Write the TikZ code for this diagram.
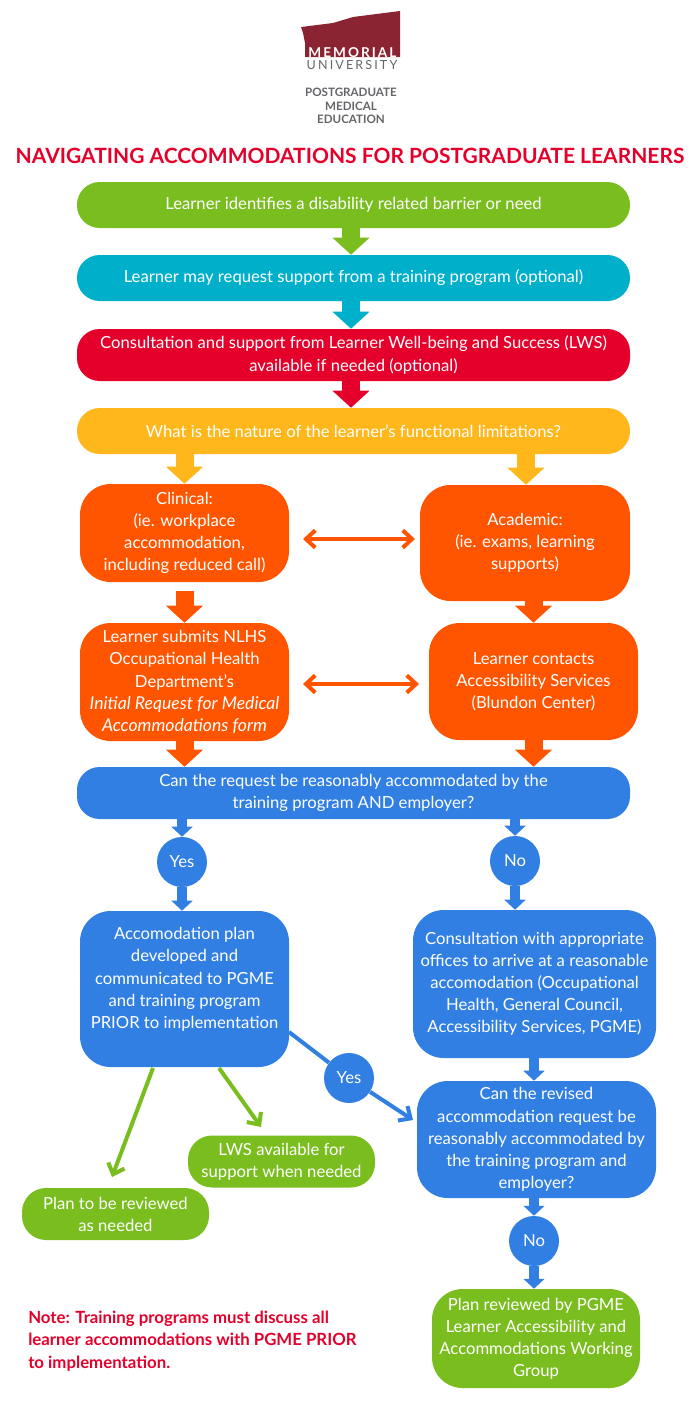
\documentclass[tikz,border=0pt]{standalone}
\usepackage{fontspec}
\setmainfont{Lato}
\newfontfamily\memfont[LetterSpace=15]{Lato}
\newfontfamily\unifont[LetterSpace=17]{Lato}
\usetikzlibrary{arrows.meta}
\definecolor{cGreen}{HTML}{7ABD1F}
\definecolor{cTeal}{HTML}{00B0CA}
\definecolor{cRed}{HTML}{E4002B}
\definecolor{cYellow}{HTML}{FFB71B}
\definecolor{cOrange}{HTML}{FF5500}
\definecolor{cBlue}{HTML}{317FE3}
\definecolor{cLogo}{HTML}{8A2432}
\definecolor{cGrey}{HTML}{646569}
\def\u{0.75pt}
\tikzset{
  x=0.75pt,y=-0.75pt,
  body/.style={text=white,align=center,inner sep=0pt,font=\fontsize{12.5}{16.6}\selectfont},
  bar/.style={body,rounded corners=17pt},
  bigbox/.style={body,rounded corners=23pt},
  pill/.style={body,rounded corners=18pt},
  dot/.style={body,circle,minimum size=50*\u},
  blockbig/.style={line width=13.5pt,-{Triangle[width=27pt,length=12.75pt]}},
  blocksmall/.style={line width=8pt,-{Triangle[width=15.5pt,length=7.5pt]}},
  thin arrow/.style={line width=3pt,{Straight Barb[length=7pt,width=13pt,line width=3pt]}-{Straight Barb[length=7pt,width=13pt,line width=3pt]}},
  diag/.style={line width=3pt,-{Straight Barb[length=7pt,width=13pt,line width=3pt]}},
}
\begin{document}
\begin{tikzpicture}
\useasboundingbox (0,0) rectangle (700,1411);
% logo
\fill[cLogo] (301,27) -- (333,23) -- (353,17) -- (400,11) -- (400,57) -- (305,57) -- (305,43) -- (303,33) -- cycle;
\node[text=white,inner sep=0pt,font={\memfont\bfseries\fontsize{10.2}{12}\selectfont}] (mem) at (352.5,52.5) {MEMORIAL};
\node[text=cGrey,inner sep=0pt,font={\unifont\fontsize{9.4}{12}\selectfont}] (uni) at (352,65.5) {UNIVERSITY};
\node[text=cGrey,inner sep=0pt,align=center,font={\bfseries\fontsize{8.7}{10.1}\selectfont}] (pgme) at (351,106) {POSTGRADUATE\\MEDICAL\\EDUCATION};
% title
\node[text=cRed,inner sep=0pt,font={\bfseries\fontsize{15.75}{18}\selectfont}] (title) at (350,156) {NAVIGATING ACCOMMODATIONS FOR POSTGRADUATE LEARNERS};
% nodes
\node[bar,fill=cGreen,minimum width=553*\u,minimum height=46*\u] (n1) at (353.5,205) {Learner identifies a disability related barrier or need};
\node[bar,fill=cTeal,minimum width=553*\u,minimum height=46*\u] (n2) at (353.5,278) {Learner may request support from a training program (optional)};
\node[bar,fill=cRed,minimum width=553*\u,minimum height=52*\u] (n3) at (353.5,355) {Consultation and support from Learner Well-being and Success (LWS)\\available if needed (optional)};
\node[bar,fill=cYellow,minimum width=553*\u,minimum height=46*\u] (n4) at (353.5,431) {What is the nature of the learner's functional limitations?};
\node[bigbox,fill=cOrange,minimum width=209*\u,minimum height=98*\u] (clin) at (184.5,533) {Clinical:\\(ie. workplace\\accommodation,\\including reduced call)};
\node[bigbox,fill=cOrange,minimum width=210*\u,minimum height=116*\u] (acad) at (525,543) {Academic:\\(ie. exams, learning\\supports)};
\node[bigbox,fill=cOrange,minimum width=209*\u,minimum height=118*\u] (subm) at (184.5,682) {Learner submits NLHS\\Occupational Health\\Department's\\{\fontsize{13.2}{16.6}\selectfont\itshape Initial Request for Medical}\\{\fontsize{13.2}{16.6}\selectfont\itshape Accommodations form}};
\node[bigbox,fill=cOrange,minimum width=209*\u,minimum height=117*\u] (cont) at (533.5,681.5) {Learner contacts\\Accessibility Services\\(Blundon Center)};
\node[bar,fill=cBlue,minimum width=553*\u,minimum height=52*\u] (q1) at (353.5,793) {Can the request be reasonably accommodated by the\\training program AND employer?};
\node[dot,fill=cBlue] (yes1) at (182,862) {Yes};
\node[dot,fill=cBlue] (no1) at (515,861) {No};
\node[bigbox,fill=cBlue,minimum width=209*\u,minimum height=156*\u] (plan) at (184.5,989) {Accomodation plan\\developed and\\communicated to PGME\\and training program\\PRIOR to implementation\\\mbox{}};
\node[bigbox,fill=cBlue,minimum width=243*\u,minimum height=148*\u] (cons) at (534.5,984) {Consultation with appropriate\\offices to arrive at a reasonable\\accomodation (Occupational\\Health, General Council,\\Accessibility Services, PGME)};
\node[bigbox,fill=cBlue,minimum width=239*\u,minimum height=117*\u] (rev) at (536.5,1139.5) {Can the revised\\accommodation request be\\reasonably accommodated by\\the training program and\\employer?};
\node[dot,fill=cBlue] (no2) at (534,1241) {No};
\node[dot,fill=cBlue] (yes2) at (349,1078) {Yes};
\node[bigbox,fill=cGreen,minimum width=208*\u,minimum height=99*\u] (final) at (536,1338.5) {Plan reviewed by PGME\\Learner Accessibility and\\Accommodations Working\\Group};
\node[pill,fill=cGreen,minimum width=187*\u,minimum height=52*\u] (lws) at (281.5,1161.5) {LWS available for\\support when needed};
\node[pill,fill=cGreen,minimum width=187*\u,minimum height=52*\u] (rvw) at (115.5,1214) {Plan to be reviewed\\as needed};
\node[text=cRed,inner sep=0pt,anchor=west,align=left,font={\bfseries\fontsize{12.6}{16.9}\selectfont}] (note) at (28,1341) {Note: Training programs must discuss all\\learner accommodations with PGME PRIOR\\to implementation.};
% free-end coordinates
\coordinate (x1) at (351,0);
\coordinate (x2) at (184.5,0);
\coordinate (x3) at (526,0);
\coordinate (x4) at (533.5,0);
\coordinate (x5) at (182,0);
\coordinate (x6) at (515,0);
\coordinate (x7) at (534,0);
\coordinate (da1) at (303,539);
\coordinate (db1) at (415,539);
\coordinate (da2) at (303,684);
\coordinate (db2) at (419,684);
\coordinate (p1) at (289,1032);
\coordinate (r1) at (413,1120);
\coordinate (g1) at (153,1068);
\coordinate (g2) at (112,1177);
\coordinate (g3) at (219,1068);
\coordinate (g4) at (261,1127);
% block connectors
\draw[blockbig,cGreen] (n1.south -| x1) -- (n2.north -| x1);
\draw[blockbig,cTeal] (n2.south -| x1) -- (n3.north -| x1);
\draw[blockbig,cRed] (n3.south -| x1) -- (n4.north -| x1);
\draw[blockbig,cYellow] (n4.south -| x2) -- (clin.north -| x2);
\draw[blockbig,cYellow] (n4.south -| x3) -- (acad.north -| x3);
\draw[blockbig,cOrange] (clin.south -| x2) ++(0,9) -- (subm.north -| x2);
\draw[blockbig,cOrange] (acad.south -| x4) -- (cont.north -| x4);
\draw[blockbig,cOrange] (subm.south -| x2) -- (q1.north -| x2);
\draw[blockbig,cOrange] (cont.south -| x4) -- (q1.north -| x4);
\draw[blocksmall,cBlue] (q1.south -| x5) -- (yes1.north);
\draw[blocksmall,cBlue] (q1.south -| x6) -- (no1.north);
\draw[blocksmall,cBlue] (yes1.south) -- (plan.north -| x5);
\draw[blocksmall,cBlue] (no1.south) -- (cons.north -| x6);
\draw[blocksmall,cBlue] (cons.south -| x7) -- (rev.north -| x7);
\draw[blocksmall,cBlue] (rev.south -| x7) -- (no2.north);
\draw[blocksmall,cBlue] (no2.south) -- (final.north -| x7);
% thin connectors
\draw[thin arrow,cOrange] (da1) -- (db1);
\draw[thin arrow,cOrange] (da2) -- (db2);
\draw[line width=3pt,cBlue] (p1) -- (yes2);
\draw[diag,cBlue] (yes2) -- (r1);
\draw[diag,cGreen] (g1) -- (g2);
\draw[diag,cGreen] (g3) -- (g4);
\end{tikzpicture}
\end{document}
